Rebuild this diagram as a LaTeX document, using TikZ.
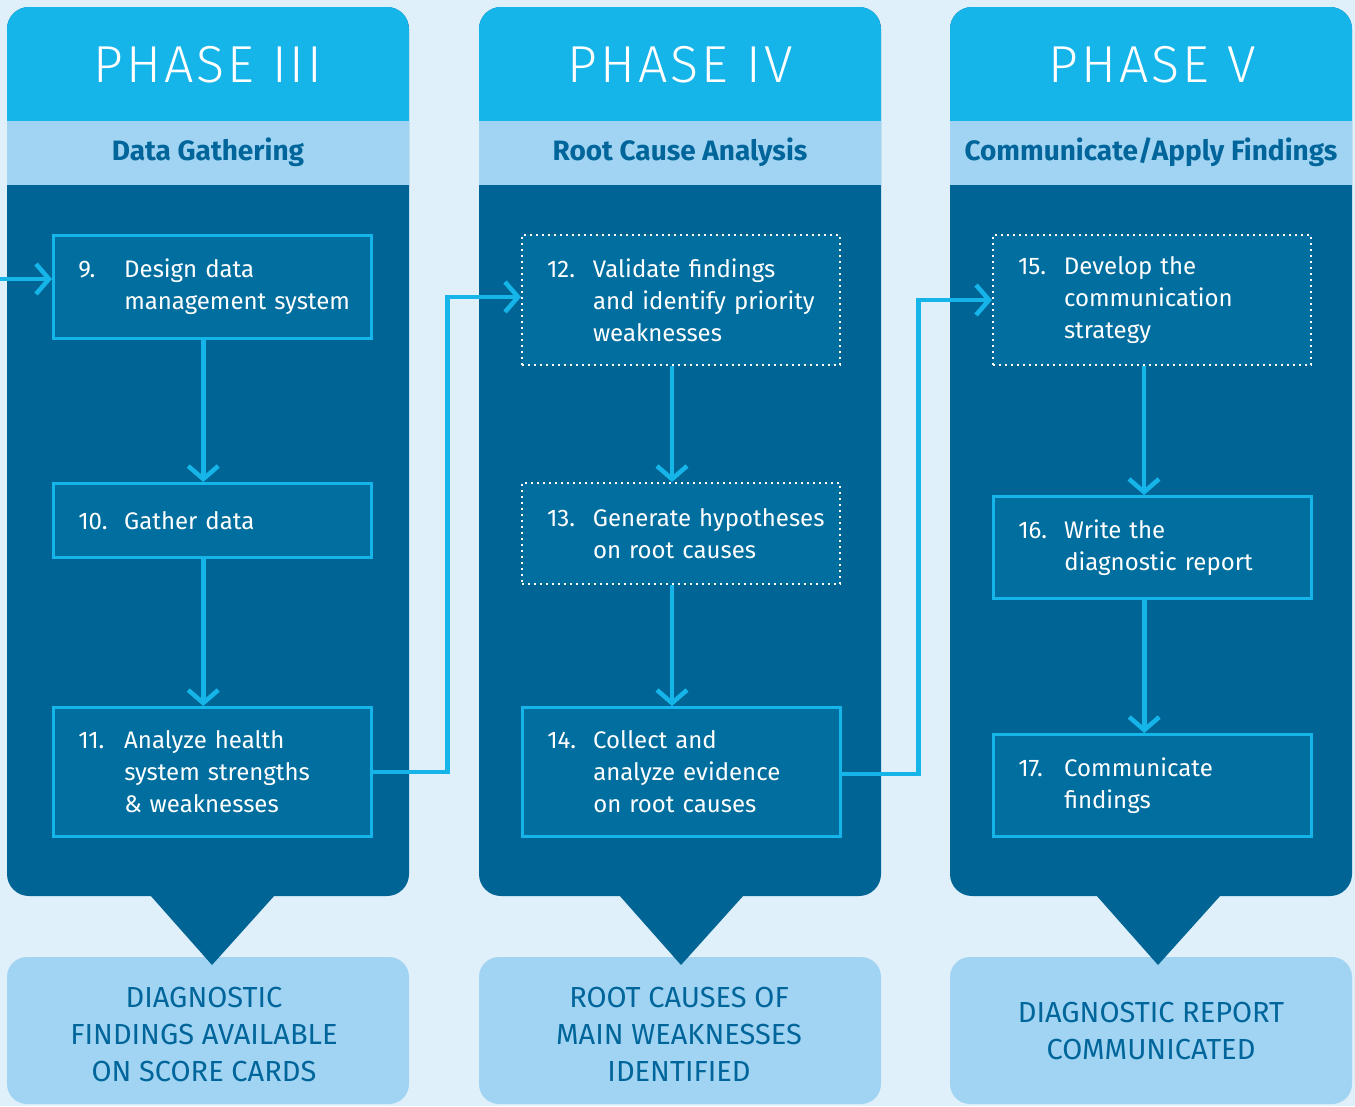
\documentclass[tikz,border=0pt]{standalone}
\usepackage{fontspec}
\setmainfont{Fira Sans}
\IfFontExistsTF{Fira Sans Light}
  {\newfontfamily\phasefont[LetterSpace=6]{Fira Sans Light}}
  {\newfontfamily\phasefont[LetterSpace=6]{Fira Sans}}
\usetikzlibrary{arrows.meta}
\hyphenpenalty=10000

\definecolor{pagebg}{HTML}{DFF0FA}
\definecolor{headcyan}{HTML}{15B5E9}
\definecolor{bandblue}{HTML}{A1D4F2}
\definecolor{bodyblue}{HTML}{006494}
\definecolor{stepfill}{HTML}{006E9E}
\definecolor{titleblue}{HTML}{00659A}

\begin{document}
\begin{tikzpicture}[x=1pt,y=-1pt,
    stepbox/.style={draw=headcyan,line width=2.5pt,fill=stepfill,text=white,
      anchor=north west,align=left,text width=268pt,inner xsep=25pt,inner ysep=0pt,
      font=\fontsize{24}{32}\selectfont},
    dotbox/.style={stepbox,draw=white,line width=2pt,dash pattern=on 2pt off 4pt},
    flow/.style={draw=headcyan,line width=4.5pt,-{Straight Barb[length=13pt,width=30pt]}},
    phasetitle/.style={text=white,font=\phasefont\fontsize{52}{60}\selectfont},
    subtitle/.style={text=titleblue,font=\fontsize{28}{32}\selectfont\bfseries},
    outcome/.style={text=titleblue,align=center,font=\fontsize{29}{37}\selectfont}]

  \useasboundingbox (0,0) rectangle (1355,1106);
  \fill[pagebg] (0,0) rectangle (1355,1106);

  % column backgrounds: outcome box, body, header band, pointer
  \foreach \l/\t in {7/212, 479/681, 950/1158} {
    \fill[bandblue,rounded corners=20pt] (\l,957) rectangle (\l+402,1104);
    \fill[bodyblue,rounded corners=22pt] (\l,7) rectangle (\l+402,896);
    \begin{scope}
      \clip[rounded corners=22pt] (\l,7) rectangle (\l+402,896);
      \fill[headcyan] (\l,7) rectangle (\l+402,121);
      \fill[bandblue] (\l,121) rectangle (\l+402,185);
    \end{scope}
    \fill[bodyblue] (\t-62,895) -- (\t+63,895) -- (\t,965) -- cycle;
  }

  % headings
  \node[phasetitle] (p3) at (208,65) {PHASE III};
  \node[phasetitle] (p4) at (680,65) {PHASE IV};
  \node[phasetitle] (p5) at (1152,65) {PHASE V};
  \node[subtitle] (t3) at (208,152) {Data Gathering};
  \node[subtitle] (t4) at (680,152) {Root Cause Analysis};
  \node[subtitle] (t5) at (1151,152) {Communicate/Apply Findings};

  % steps
  \node[stepbox,minimum height=103pt] (s9) at (52,234)
    {\makebox[46pt][l]{9.}\parbox[t]{250pt}{Design data\\management system}};
  \node[stepbox,minimum height=74pt] (s10) at (52,482)
    {\makebox[46pt][l]{10.}\parbox[t]{250pt}{Gather data}};
  \node[stepbox,minimum height=129pt] (s11) at (52,706)
    {\makebox[46pt][l]{11.}\parbox[t]{250pt}{Analyze health\\system strengths\\\& weaknesses}};

  \node[dotbox,minimum height=130pt] (s12) at (521,234)
    {\makebox[46pt][l]{12.}\parbox[t]{250pt}{Validate findings\\and identify priority\\weaknesses}};
  \node[dotbox,minimum height=101pt] (s13) at (521,482)
    {\makebox[46pt][l]{13.}\parbox[t]{250pt}{Generate hypotheses\\on root causes}};
  \node[stepbox,minimum height=129pt] (s14) at (521,706)
    {\makebox[46pt][l]{14.}\parbox[t]{250pt}{Collect and\\analyze evidence\\on root causes}};

  \node[dotbox,minimum height=130pt] (s15) at (992,234)
    {\makebox[46pt][l]{15.}\parbox[t]{250pt}{Develop the\\communication\\strategy}};
  \node[stepbox,minimum height=102pt] (s16) at (992,495)
    {\makebox[46pt][l]{16.}\parbox[t]{250pt}{Write the\\diagnostic report}};
  \node[stepbox,minimum height=102pt] (s17) at (992,733)
    {\makebox[46pt][l]{17.}\parbox[t]{250pt}{Communicate\\findings}};

  % outcomes
  \node[outcome] (o3) at (204,1034) {DIAGNOSTIC\\FINDINGS AVAILABLE\\ON SCORE CARDS};
  \node[outcome] (o4) at (679,1034) {ROOT CAUSES OF\\MAIN WEAKNESSES\\IDENTIFIED};
  \node[outcome] (o5) at (1151,1031) {DIAGNOSTIC REPORT\\COMMUNICATED};

  % arrows
  \coordinate (entry) at (0,279);
  \draw[flow] (entry) -- (entry -| s9.west);
  \draw[flow] ([xshift=-9pt]s9.south) -- ([xshift=-9pt]s9.south |- s10.north);
  \draw[flow] ([xshift=-9pt]s10.south) -- ([xshift=-9pt]s10.south |- s11.north);
  \draw[flow] (s11.east) -- ++(75,0) |- ([yshift=3pt]s12.west);
  \draw[flow] ([xshift=-9pt]s12.south) -- ([xshift=-9pt]s12.south |- s13.north);
  \draw[flow] ([xshift=-9pt]s13.south) -- ([xshift=-9pt]s13.south |- s14.north);
  \draw[flow] ([yshift=-2pt]s14.east) -- ++(77,0) |- (s15.west);
  \draw[flow] ([xshift=-8pt]s15.south) -- ([xshift=-8pt]s15.south |- s16.north);
  \draw[flow] ([xshift=-8pt]s16.south) -- ([xshift=-8pt]s16.south |- s17.north);
\end{tikzpicture}
\end{document}
